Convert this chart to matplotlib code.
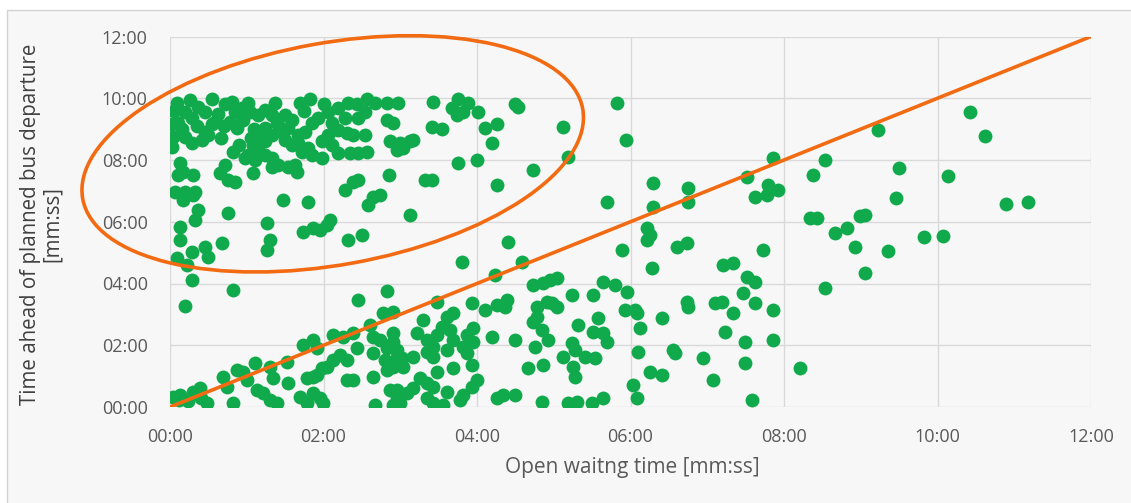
import matplotlib
matplotlib.use("Agg")
import matplotlib.pyplot as plt
from matplotlib.patches import Ellipse, Rectangle
from matplotlib.transforms import IdentityTransform

plt.rcParams["font.family"] = ["Open Sans", "DejaVu Sans"]

# ---- data (minutes) ----
tick_values = [0, 2, 4, 6, 8, 10, 12]
tick_labels = ["00:00", "02:00", "04:00", "06:00", "08:00", "10:00", "12:00"]

x_label = "Open waitng time [mm:ss]"
y_label = "Time ahead of planned bus departure\n[mm:ss]"

# open waiting time (min)
wait_min = [
    0.20, 0.36, 0.46, 0.29, 0.03, 0.10, 0.04, 0.03, 0.20, 0.29,
    0.42, 0.50, 0.59, 0.55, 0.72, 0.81, 0.85, 0.94, 1.04, 1.15,
    1.24, 1.33, 0.87, 0.78, 1.24, 1.33, 1.46, 1.50, 1.59, 1.54,
    1.67, 1.76, 1.50, 1.59, 1.67, 1.72, 1.80, 1.93, 2.06, 2.19,
    2.32, 2.44, 2.57, 2.54, 2.45, 2.28, 2.11, 2.19, 2.31, 2.38,
    2.54, 2.06, 1.98, 2.11, 2.19, 1.98, 1.85, 2.35, 2.45, 2.57,
    1.24, 1.15, 1.08, 1.02, 0.98, 1.11, 1.24, 1.33, 1.41, 1.33,
    1.54, 1.63, 1.65, 1.08, 0.82, 0.72, 0.65, 0.76, 0.85, 0.13,
    0.17, 0.10, 0.30, 0.07, 0.20, 0.33, 0.09, 0.26, 0.55, 1.02,
    1.37, 1.69, 1.82, 2.67, 2.83, 2.97, 3.43, 3.67, 3.75, 3.82,
    3.88, 3.74, 4.01, 4.50, 4.53, 3.41, 3.54, 4.10, 4.26, 4.20,
    5.12, 2.83, 2.91, 2.87, 3.00, 3.13, 2.96, 3.04, 3.17, 3.75,
    4.00, 5.19, 4.73, 2.85, 3.32, 3.41, 4.26, 3.13, 2.74, 0.17,
    0.30, 0.36, 0.33, 0.13, 0.13, 0.29, 0.09, 0.22, 0.29, 0.46,
    0.50, 0.68, 0.76, 0.82, 1.47, 1.80, 1.26, 1.30, 1.26, 1.73,
    1.86, 1.95, 2.08, 2.05, 2.32, 2.50, 2.28, 2.38, 2.45, 2.64,
    2.58, 0.20, 2.45, 2.83, 2.78, 2.91, 0.04, 0.13, 0.30, 0.39,
    0.48, 0.82, 0.69, 0.87, 0.95, 1.00, 0.74, 1.13, 1.21, 1.30,
    1.39, 1.11, 1.30, 1.34, 1.54, 1.52, 1.73, 1.86, 1.92, 1.69,
    1.79, 1.86, 1.95, 1.99, 2.05, 2.12, 2.21, 1.86, 1.79, 2.31,
    2.38, 2.44, 2.12, 2.25, 2.38, 2.61, 2.64, 2.64, 2.64, 2.74,
    2.83, 2.91, 2.96, 2.91, 2.67, 2.96, 3.48, 3.93, 4.10, 4.26,
    3.30, 3.61, 3.69, 3.54, 3.22, 3.48, 3.65, 3.95, 3.87, 4.20,
    2.91, 2.96, 2.80, 3.02, 3.17, 3.04, 2.83, 3.35, 3.43, 3.35,
    3.43, 3.61, 3.69, 3.82, 3.95, 3.87, 2.31, 1.98, 1.92, 3.26,
    3.48, 3.69, 3.93, 4.00, 3.93, 3.82, 3.78, 2.87, 2.96, 3.00,
    3.09, 3.17, 3.35, 3.43, 3.61, 3.35, 3.43, 3.56, 2.91, 4.26,
    4.40, 3.80, 4.59, 4.23, 4.39, 4.36, 4.73, 4.86, 4.95, 5.04,
    5.24, 5.51, 5.64, 4.78, 4.91, 4.98, 5.04, 4.78, 4.73, 4.85,
    4.93, 4.76, 4.50, 5.32, 5.58, 5.51, 5.64, 5.69, 5.24, 5.28,
    5.12, 5.41, 5.54, 4.86, 4.66, 5.25, 5.28, 4.34, 4.50, 4.85,
    5.19, 5.30, 5.50, 5.64, 7.86, 8.53, 8.38, 7.52, 6.29, 6.75,
    6.75, 6.29, 7.62, 7.79, 7.78, 7.92, 5.69, 8.34, 8.43, 8.66,
    8.82, 6.21, 6.25, 6.21, 6.61, 6.74, 5.89, 7.73, 6.28, 7.21,
    7.34, 7.52, 7.62, 5.80, 5.95, 8.53, 7.47, 6.74, 6.75, 7.10,
    7.19, 7.62, 7.34, 7.86, 5.93, 6.06, 6.08, 6.12, 6.41, 7.23,
    7.49, 7.86, 6.10, 6.55, 6.58, 6.94, 7.49, 6.25, 6.41, 8.21,
    6.03, 7.07, 6.08, 7.58, 10.42, 10.62, 9.22, 9.50, 10.14, 9.46,
    9.06, 8.99, 8.92, 9.35, 9.82, 10.07, 9.06, 10.89, 11.18, 5.82,
    5.94, 0.05, 0.15, 0.35, 0.45, 0.62, 0.70, 0.95, 1.10, 1.20,
    1.40, 1.05, 0.90, 1.75, 1.85, 2.00, 0.66, 0.12, 0.40, 0.24,
]

# time ahead of planned bus departure (min)
ahead_min = [
    9.57, 9.73, 9.54, 9.37, 9.15, 9.21, 8.73, 8.43, 8.73, 8.56,
    8.66, 8.82, 9.24, 9.15, 9.80, 9.89, 9.54, 9.70, 9.57, 9.47,
    9.63, 9.47, 9.05, 9.24, 9.05, 8.82, 8.92, 9.47, 9.31, 9.05,
    8.82, 8.92, 8.66, 8.50, 8.56, 8.27, 8.40, 9.37, 9.57, 9.70,
    9.86, 9.80, 9.96, 9.57, 9.37, 9.37, 9.21, 8.98, 8.89, 8.82,
    8.82, 8.82, 8.60, 8.50, 8.24, 8.08, 8.17, 8.24, 8.24, 8.27,
    8.60, 8.40, 8.50, 8.17, 8.08, 8.01, 8.17, 8.08, 7.85, 7.78,
    7.78, 7.85, 7.62, 7.59, 8.27, 7.85, 7.59, 7.36, 7.30, 7.91,
    7.62, 7.53, 7.53, 6.97, 6.97, 6.97, 9.83, 9.93, 9.96, 9.86,
    9.83, 9.86, 9.96, 9.83, 9.86, 9.86, 9.89, 9.70, 9.96, 9.54,
    9.86, 9.47, 9.54, 9.80, 9.73, 9.08, 9.02, 9.05, 9.15, 8.56,
    9.08, 9.31, 9.21, 8.60, 8.56, 8.60, 8.34, 8.40, 8.66, 7.91,
    8.01, 8.11, 7.69, 7.53, 7.36, 7.36, 7.20, 6.23, 6.88, 6.71,
    6.88, 6.39, 6.07, 5.84, 5.42, 5.03, 4.83, 4.61, 4.12, 5.19,
    4.87, 5.32, 6.29, 3.80, 6.71, 6.65, 5.97, 5.42, 5.09, 5.68,
    5.81, 5.74, 6.07, 5.90, 5.42, 5.58, 7.04, 7.30, 7.36, 6.81,
    6.55, 3.28, 3.47, 3.76, 3.05, 3.08, 0.32, 0.39, 0.49, 0.62,
    0.13, 0.13, 0.97, 1.20, 1.14, 0.88, 0.65, 0.55, 0.45, 0.23,
    0.13, 1.43, 1.30, 0.94, 0.78, 1.46, 2.01, 2.17, 1.91, 0.32,
    0.13, 0.45, 0.29, 0.13, 1.30, 1.52, 1.69, 0.97, 0.94, 0.88,
    0.88, 1.91, 2.34, 2.27, 2.40, 2.66, 2.27, 1.75, 0.97, 2.17,
    1.91, 2.40, 1.62, 1.30, 0.06, 0.55, 3.41, 3.37, 3.15, 3.31,
    2.82, 2.92, 3.05, 2.59, 2.40, 2.34, 2.50, 2.56, 2.34, 2.27,
    2.11, 1.85, 1.52, 1.58, 1.62, 1.30, 1.20, 2.17, 1.95, 1.78,
    1.62, 1.85, 2.17, 1.95, 2.11, 1.75, 1.52, 1.27, 1.04, 0.94,
    1.14, 1.27, 1.36, 0.88, 0.65, 0.39, 0.23, 0.55, 0.32, 0.13,
    0.45, 0.62, 0.78, 0.65, 0.49, 0.29, 0.13, 0.06, 0.06, 0.29,
    5.35, 4.70, 4.70, 4.28, 3.47, 3.24, 3.96, 4.02, 4.12, 4.18,
    3.63, 3.63, 4.05, 3.24, 3.41, 3.37, 3.24, 2.92, 2.76, 2.50,
    2.17, 1.95, 2.17, 2.66, 2.89, 2.43, 2.40, 2.11, 2.08, 1.85,
    1.62, 1.62, 1.59, 1.36, 1.27, 1.30, 0.97, 0.39, 0.39, 0.16,
    0.13, 0.16, 0.13, 0.29, 8.08, 8.01, 7.53, 7.46, 7.27, 7.10,
    6.65, 6.49, 6.81, 7.20, 6.88, 7.04, 6.65, 6.13, 6.13, 5.64,
    5.81, 5.81, 5.58, 5.42, 5.19, 5.32, 5.09, 5.09, 4.51, 4.61,
    4.67, 4.22, 4.05, 3.96, 3.73, 3.86, 3.70, 3.41, 3.24, 3.37,
    3.41, 3.37, 3.05, 3.15, 3.15, 3.15, 3.05, 2.56, 2.89, 2.43,
    2.11, 2.17, 1.78, 1.85, 1.75, 1.59, 1.43, 1.14, 1.04, 1.27,
    0.71, 0.88, 0.29, 0.23, 9.54, 8.79, 8.98, 7.75, 7.49, 6.78,
    6.23, 6.20, 5.19, 5.06, 5.51, 5.55, 4.35, 6.58, 6.65, 9.83,
    8.66, 9.60, 9.00, 9.10, 8.90, 9.50, 9.10, 9.30, 9.00, 8.80,
    9.20, 8.70, 8.50, 9.60, 9.20, 9.80, 8.70, 0.22, 0.30, 0.20,
]

# reference line y = x and highlighted group (minutes)
diag_x = [0, 12]
diag_y = [0, 12]
ellipse_center = (2.12, 8.20)

# ---- styling ----
GREEN = "#10aa4c"
ORANGE = "#f26b12"
GRID = "#d9d9d9"
TEXT = "#595959"
BG = "#f7f7f7"

W, H = 1131, 503
fig = plt.figure(figsize=(W / 100, H / 100), dpi=100)
fig.patch.set_facecolor("white")
frame = Rectangle((7 / W, -0.05), 1.2, 1.05 - 10 / H,
                  transform=fig.transFigure, facecolor=BG,
                  edgecolor="#d2d2d2", linewidth=1.0, zorder=-10)
fig.add_artist(frame)

ax = fig.add_axes([170 / W, 96 / H, 921 / W, 370.5 / H])
ax.set_facecolor("none")
ax.set_xlim(0, 12)
ax.set_ylim(0, 12)
ax.set_xticks(tick_values, tick_labels)
ax.set_yticks(tick_values, tick_labels)
ax.grid(True, color=GRID, linewidth=1.0)
ax.set_axisbelow(True)
for s in ax.spines.values():
    s.set_visible(False)
ax.tick_params(axis="both", length=0, labelsize=13, colors=TEXT)
ax.tick_params(axis="x", pad=15)
ax.tick_params(axis="y", pad=16)

ax.scatter(wait_min, ahead_min, s=100, color=GREEN, linewidths=0, zorder=3)
ax.plot(diag_x, diag_y, color=ORANGE, linewidth=2.6, zorder=4,
        solid_capstyle="butt")

cx, cy = ax.transData.transform(ellipse_center)
ell = Ellipse((cx, cy), width=508, height=222, angle=10.2,
              transform=IdentityTransform(), fill=False,
              edgecolor=ORANGE, linewidth=2.6, zorder=6, clip_on=False)
ax.add_artist(ell)

fig.text(632 / W, 1 - 467 / H, x_label, ha="center", va="center",
         fontsize=15, color=TEXT)
fig.text(41 / W, 1 - 224 / H, y_label, ha="center", va="center",
         rotation=90, fontsize=14.8, color="#404040", multialignment="center",
         linespacing=1.05)

fig.savefig("out.png", dpi=100, facecolor=fig.get_facecolor())
